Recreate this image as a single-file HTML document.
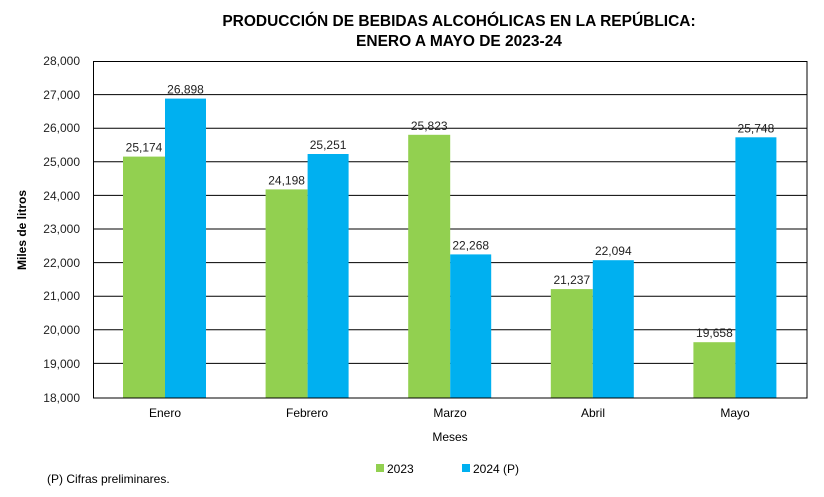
<!DOCTYPE html>
<html><head><meta charset="utf-8"><style>body{margin:0;background:#fff}</style></head><body>
<svg width="824" height="492" xmlns="http://www.w3.org/2000/svg" font-family="Liberation Sans, Arial, sans-serif">
<rect width="824" height="492" fill="#fff"/>
<text x="459" y="26" font-size="15.5" font-weight="bold" text-anchor="middle">PRODUCCIÓN DE BEBIDAS ALCOHÓLICAS EN LA REPÚBLICA:</text>
<text x="459" y="46" font-size="15.5" font-weight="bold" text-anchor="middle">ENERO A MAYO DE 2023-24</text>
<g stroke="#000" stroke-width="1">
<line x1="93" y1="94.6" x2="807" y2="94.6"/><line x1="93" y1="128.2" x2="807" y2="128.2"/><line x1="93" y1="161.8" x2="807" y2="161.8"/><line x1="93" y1="195.4" x2="807" y2="195.4"/><line x1="93" y1="229" x2="807" y2="229"/><line x1="93" y1="262.6" x2="807" y2="262.6"/><line x1="93" y1="296.2" x2="807" y2="296.2"/><line x1="93" y1="329.8" x2="807" y2="329.8"/><line x1="93" y1="363.4" x2="807" y2="363.4"/>
</g>
<g fill="#92D050">
<rect x="123" y="156.6" width="42" height="241.4"/>
<rect x="265.6" y="189.4" width="42" height="208.6"/>
<rect x="408.2" y="134.8" width="42" height="263.2"/>
<rect x="550.8" y="289.1" width="42" height="108.9"/>
<rect x="693.4" y="342.2" width="42" height="55.8"/>
</g>
<g fill="#00B0F0">
<rect x="165" y="98.6" width="41" height="299.4"/>
<rect x="307.6" y="154" width="41" height="244"/>
<rect x="450.2" y="254.4" width="41" height="143.6"/>
<rect x="592.8" y="260.2" width="41" height="137.8"/>
<rect x="735.4" y="137.3" width="41" height="260.7"/>
</g>
<g font-size="12" text-anchor="middle" fill="#222">
<text x="144" y="151.6">25,174</text><text x="185.5" y="93.6">26,898</text>
<text x="286.6" y="184.4">24,198</text><text x="328.1" y="149">25,251</text>
<text x="429.2" y="129.8">25,823</text><text x="470.7" y="249.4">22,268</text>
<text x="571.8" y="284.1">21,237</text><text x="613.3" y="255.2">22,094</text>
<text x="714.4" y="337.2">19,658</text><text x="755.9" y="132.3">25,748</text>
</g>
<rect x="93.5" y="61.5" width="713.5" height="336.5" fill="none" stroke="#000"/>
<g font-size="12" text-anchor="end" fill="#222">
<text x="80" y="65">28,000</text><text x="80" y="99">27,000</text><text x="80" y="132">26,000</text><text x="80" y="166">25,000</text><text x="80" y="200">24,000</text><text x="80" y="233">23,000</text><text x="80" y="267">22,000</text><text x="80" y="300">21,000</text><text x="80" y="334">20,000</text><text x="80" y="368">19,000</text><text x="80" y="402">18,000</text>
</g>
<text transform="translate(26,230) rotate(-90)" font-size="12" font-weight="bold" text-anchor="middle">Miles de litros</text>
<g font-size="12" text-anchor="middle">
<text x="165" y="417">Enero</text><text x="307" y="417">Febrero</text><text x="450" y="417">Marzo</text><text x="593" y="417">Abril</text><text x="735" y="417">Mayo</text>
<text x="450" y="441">Meses</text>
</g>
<text x="47" y="483" font-size="12">(P) Cifras  preliminares.</text>
<rect x="376" y="464" width="8" height="8" fill="#92D050"/><text x="387" y="473" font-size="12">2023</text>
<rect x="462" y="464" width="8" height="8" fill="#00B0F0"/><text x="473" y="473" font-size="12">2024 (P)</text>
</svg>
</body></html>
